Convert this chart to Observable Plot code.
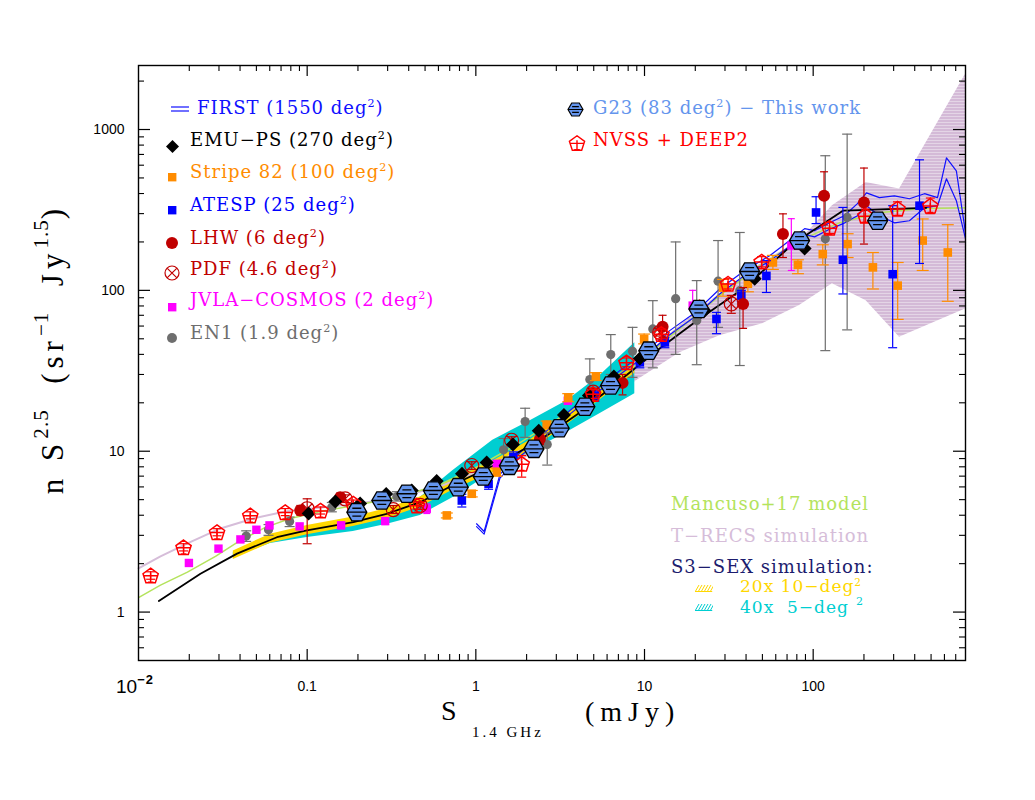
<!DOCTYPE html>
<html><head><meta charset="utf-8">
<script src="https://cdn.jsdelivr.net/npm/d3@7"></script>
<script src="https://cdn.jsdelivr.net/npm/@observablehq/plot@0.6"></script>
<style>
body{margin:0;background:#fff;}
#wrap{position:relative;width:1035px;height:800px;overflow:hidden;background:#fff;}
.t{position:absolute;white-space:nowrap;font-family:"DejaVu Serif",serif;font-size:18px;letter-spacing:1px;line-height:1;}
.t sup{font-size:0.62em;vertical-align:0.6em;line-height:0;}
.ax{position:absolute;white-space:nowrap;font-family:"Liberation Serif",serif;line-height:1;}
.ax sup{font-size:0.68em;vertical-align:0.7em;line-height:0;letter-spacing:1px;}
</style></head><body><div id="wrap"></div>
<script>
// ---------------- DATA (S in mJy, N = n S^2.5) ----------------
// NVSS + DEEP2
const nvssS  = [0.0118,0.0185,0.0292,0.046,0.0741,0.12,0.1875,0.447,1.87,4.96,7.82,12.6,21.2,31.3,49.5,83,125,204,316,495];
const nvssN  = [1.69,2.53,3.14,3.99,4.18,4.28,4.73,4.6,8.35,22.7,35.7,53.6,78.4,110,151,201,245,291,322,336];
const nvssLo = [1.6,2.4,2.98,3.8,3.98,4.07,4.5,4.37,6.9,21.3,33.5,50,73,102,140,186,226,265,292,300];
const nvssHi = [1.78,2.66,3.3,4.2,4.4,4.5,4.97,4.83,9.4,24.2,38,57.4,84,118,162,216,265,320,355,375];
// G23 (this work)
const g23S = [0.197,0.277,0.39,0.56,0.787,1.107,1.58,2.21,3.12,4.43,6.29,10.6,21.0,42.0,83.0,241];
const g23N = [4.18,4.94,5.44,5.70,5.98,6.96,8.11,10.35,13.9,18.9,25.6,42.2,76.6,131,204,271];
// EMU-PS
const emuS = [0.102,0.147,0.206,0.294,0.417,0.586,0.828,1.16,1.66,2.36,3.33,4.68,6.58,9.38,22.7,45.0,89.0,253];
const emuN = [4.10,4.87,4.73,5.42,5.70,6.53,7.24,8.51,11.0,13.4,16.8,22.2,29.1,37.7,74.8,118,182,278];
// Stripe 82
const s82S  = [0.673,0.946,1.33,2.63,3.53,5.15,9.95,29.2,41.0,57.7,81.2,114,160,226,317,446,628];
const s82N  = [3.99,5.44,7.41,14.6,21.5,29.1,49.9,104,110,149,144,168,194,139,107,204,172];
const s82Lo = [3.85,5.2,7.0,13.8,20.3,27.5,46.5,92,98,135,127,144,160,102,66,133,85.5];
const s82Hi = [4.13,5.7,7.85,15.4,22.8,30.8,53.5,117,124,165,155,192,225,172,149,278,256];
// ATESP
const atS  = [0.826,1.19,1.67,5.08,9.38,13.2,26.7,37.5,52.8,104,150,296,427];
const atN  = [4.94,6.27,9.18,22.2,35.7,47.5,66.4,92.7,123,305,155,126,336];
const atLo = [4.5,5.8,8.5,20.5,33,44,53.8,85,97,260,95,44,147];
const atHi = [5.4,6.8,9.9,24,38.5,51,73,100,153,382,328,336,648];
// LHW
const lhwS  = [0.091,0.157,2.40,7.41,12.8,38.4,66.2,116,200];
const lhwN  = [4.28,5.18,11.9,26.6,59.5,82.4,224,387,352];
const lhwLo = [4.0,4.9,11.0,22.4,51,58,160,255,194];
const lhwHi = [4.6,5.5,12.9,30,70,104,299,546,576];
// PDF
const pdfS  = [0.1,0.168,0.324,0.468,0.946,1.63,4.96,12.3,32.7];
const pdfN  = [4.39,5.06,4.34,4.60,8.15,11.7,23.3,54.8,82.4];
const pdfLo = [2.66,4.8,4.1,4.35,7.7,11.1,22,52,72];
const pdfHi = [5.06,5.35,4.6,4.85,8.6,12.3,24.6,57.6,93];
// JVLA-COSMOS
const jvS  = [0.0199,0.0298,0.0402,0.05,0.0598,0.0902,0.159,0.29,0.512,1.33,3.51,19.3,74.2];
const jvN  = [2.02,2.48,2.83,3.25,3.46,3.41,3.46,3.68,4.39,8.35,20.6,80.4,190];
const jvLo = [1.95,2.4,2.74,3.1,3.3,3.3,3.3,3.5,4.1,8.0,19.6,75,133];
const jvHi = [2.1,2.57,2.93,3.4,3.6,3.55,3.62,3.86,4.7,8.7,21.6,100,279];
// EN1
const en1S  = [0.0435,0.059,0.0787,0.140,0.34,1.46,1.96,2.65,4.74,6.31,8.49,11.2,15.3,20.4,27.3,36.7,118,159];
const en1N  = [2.97,3.25,3.66,4.49,5.23,10.2,15.3,11.0,27.9,39.9,41.8,57.6,88.8,64.9,114,99.6,209,284];
const en1Lo = [2.75,3.0,3.4,4.2,4.9,8.8,12.2,8.2,20.7,30,28.8,33,40,34.5,58.9,34.1,42.2,56.8];
const en1Hi = [3.2,3.5,3.9,4.8,5.6,12.0,18.5,13.0,37.5,53.1,58.9,86.3,200,115,204,229,687,936];
// FIRST (two bounding lines)
const firstS  = [1.01,1.12,1.39,1.83,2.57,3.61,5.08,7.14,10.0,14.1,19.9,27.9,39.3,55.2,72.5,89.0,102,125,153,183,207,247,303,372,457,546,617,706,800];
const firstHi = [3.54,3.17,7.17,9.82,13.1,17.9,23.8,31.7,41.0,56.2,72.7,102,133,164,204,242,235,263,291,346,404,377,387,371,399,377,667,554,228];
const firstLo = [3.4,3.05,6.8,9.3,12.4,17.0,22.6,30.0,38.8,53.0,68.5,95,124,152,188,222,215,240,262,291,336,291,263,271,326,336,494,361,210];
// Mancuso+17 model
const mS = [0.01,0.0135,0.0195,0.0286,0.0402,0.0565,0.0794,0.12,0.206,0.356,0.614,1.06,1.83,3.15,5.43,9.38,16.2,27.9,48.2,83.0,143,247,427,800];
const mN = [1.23,1.47,1.77,2.22,2.79,3.36,3.82,4.22,4.67,5.23,6.21,8.15,11.3,16.2,23.8,36.6,57.8,92.7,142,204,263,304,322,326];
// T-RECS simulation: line (faint fluxes) and band
const trS = [0.01,0.0135,0.0195,0.0306,0.048,0.0741,0.12,0.206,0.356,0.614,1.06,1.83];
const trN = [1.87,2.22,2.67,3.31,3.82,4.22,4.47,4.73,5.23,6.04,7.59,10.1];
const tbS  = [1.83,3.15,5.43,9.38,16.2,27.9,50.1,83.0,130,206,325,800];
const tbLo = [8.51,13.1,19.2,28.3,41.0,52.3,62.1,80.4,110,86.3,51.1,76.6];
const tbHi = [10.4,16.0,23.8,36.6,60.4,95.4,149,204,336,469,426,2209];
// S3-SEX simulation: black line, 20x10-deg2 (yellow) and 40x5-deg2 (cyan) bands
const bS = [0.0132,0.0233,0.0384,0.0662,0.0997,0.188,0.296,0.468,0.805,1.39,2.40,4.14,7.14,12.3,21.2,38.2,77.6,150,468];
const bN = [1.17,1.73,2.31,2.92,3.22,3.62,4.08,4.82,6.48,8.51,11.7,17.4,27.5,43.5,66.7,102,198,313,326];
const sxS   = [0.0365,0.0605,0.100,0.1875,0.298,0.468,0.733,1.26,2.01,3.47,5.43,8.76];
const cyLo  = [2.19,2.67,2.91,3.17,3.51,3.99,5.16,7.37,9.68,13.1,17.1,22.8];
const cyHi  = [2.35,2.91,3.31,3.71,4.28,5.16,7.59,11.7,15.1,20.6,29.5,47.3];
const yeLo  = [2.12,2.68,3.02,3.40,3.82,4.50,5.75,7.4,9.7,14.6,20.8,30.5];
const yeHi  = [2.40,3.05,3.45,3.90,4.40,5.20,6.7,8.7,11.4,17.1,24.4,35.8];
// axis ticks
const xLabelTicks = [0.1,1,10,100];
const yLabelTicks = [1,10,100,1000];

// ---------------- helpers ----------------
const rec = (S,N,lo,hi) => S.map((s,i)=>({S:s,N:N[i],lo:lo?lo[i]:null,hi:hi?hi[i]:null}));
const band = (S,lo,hi) => S.map((s,i)=>({S:s,lo:lo[i],hi:hi[i]}));
const hOf = s => Math.sqrt(s/Math.PI);
const symDiamond = {draw(c,s){const h=hOf(s);c.moveTo(0,-h);c.lineTo(h,0);c.lineTo(0,h);c.lineTo(-h,0);c.closePath();}};
const symSquare = {draw(c,s){const h=hOf(s);c.rect(-h,-h,2*h,2*h);}};
const symCircle = {draw(c,s){const h=hOf(s);c.moveTo(h,0);c.arc(0,0,h,0,2*Math.PI);}};
const symCircleX = {draw(c,s){const h=hOf(s);c.moveTo(h,0);c.arc(0,0,h,0,2*Math.PI);const q=h*0.7071;c.moveTo(-q,-q);c.lineTo(q,q);c.moveTo(q,-q);c.lineTo(-q,q);}};
const symPent = {draw(c,s){const h=hOf(s);for(let k=0;k<5;k++){const a=-Math.PI/2+k*2*Math.PI/5;const x=h*Math.cos(a),y=h*Math.sin(a)+h*0.1;k?c.lineTo(x,y):c.moveTo(x,y);}c.closePath();
  c.moveTo(-h*0.8,h*0.05);c.lineTo(h*0.8,h*0.05);c.moveTo(0,-h*0.35);c.lineTo(0,h*0.85);c.moveTo(-h*0.35,h*0.85);c.lineTo(h*0.35,h*0.85);}};
const symHex = {draw(c,s){const h=hOf(s);const v=h*0.866;c.moveTo(h,0);c.lineTo(h/2,v);c.lineTo(-h/2,v);c.lineTo(-h,0);c.lineTo(-h/2,-v);c.lineTo(h/2,-v);c.closePath();
  c.moveTo(-h,0);c.lineTo(h,0);c.moveTo(-h*0.45,-v*0.45);c.lineTo(h*0.45,-v*0.45);c.moveTo(-h*0.45,v*0.45);c.lineTo(h*0.45,v*0.45);}};
const symCap = {draw(c,s){const h=hOf(s);c.moveTo(-h,0);c.lineTo(h,0);}};

function errs(data,color,cap,sw=1.2){
  return [
    Plot.ruleX(data,{x:"S",y1:"lo",y2:"hi",stroke:color,strokeWidth:sw}),
    Plot.dot(data,{x:"S",y:"lo",symbol:symCap,r:cap,stroke:color,strokeWidth:sw,fill:"none"}),
    Plot.dot(data,{x:"S",y:"hi",symbol:symCap,r:cap,stroke:color,strokeWidth:sw,fill:"none"})
  ];
}

const C = {first:"#1010ff",s82:"#ff8c00",atesp:"#0000ff",lhw:"#c00000",pdf:"#c00000",jv:"#ff00ff",en1:"#6e6e6e",
  g23:"#6495ed",nvss:"#ff0000",manc:"#b4e35c",trecs:"#d6bdd9",sx:"#1c1c6e",yel:"#ffd700",cyan:"#00ced1"};

const nvss=rec(nvssS,nvssN,nvssLo,nvssHi), g23=rec(g23S,g23N), emu=rec(emuS,emuN),
  s82=rec(s82S,s82N,s82Lo,s82Hi), at=rec(atS,atN,atLo,atHi), lhw=rec(lhwS,lhwN,lhwLo,lhwHi),
  pdf=rec(pdfS,pdfN,pdfLo,pdfHi), jv=rec(jvS,jvN,jvLo,jvHi), en1=rec(en1S,en1N,en1Lo,en1Hi);
const firstData = firstS.map((s,i)=>({S:s,hi:firstHi[i],lo:firstLo[i]}));
const manc = rec(mS,mN), trl = rec(trS,trN), blk = rec(bS,bN);
const trb = band(tbS,tbLo,tbHi), cyb = band(sxS,cyLo,cyHi), yeb = band(sxS,yeLo,yeHi);

const W=1035,H=800,mt=65,mb=140,ml=138,mr=70, pw=W-ml-mr, ph=H-mt-mb;
const decs=[0.01,0.1,1,10,100,1000];
const xMajor=[0.1,1,10,100];
const xMinor=decs.flatMap(d=>d3.range(2,10).map(k=>+(k*d).toPrecision(3))).filter(v=>v>0.01&&v<800);
const yMajor=[1,10,100,1000];
const yMinor=[0.1,1,10,100,1000].flatMap(d=>d3.range(2,10).map(k=>+(k*d).toPrecision(3))).filter(v=>v>0.5&&v<2500);

const chart = Plot.plot({
  width:W,height:H,marginTop:mt,marginBottom:mb,marginLeft:ml,marginRight:mr,
  x:{type:"log",domain:[0.01,800]},
  y:{type:"log",domain:[0.5,2500]},
  style:{background:"white",color:"black",overflow:"visible"},
  marks:[
    Plot.areaY(trb,{x:"S",y1:"lo",y2:"hi",fill:"url(#trecsHatch)",clip:true}),
    Plot.areaY(cyb,{x:"S",y1:"lo",y2:"hi",fill:C.cyan}),
    Plot.areaY(yeb,{x:"S",y1:"lo",y2:"hi",fill:C.yel}),
    Plot.line(trl,{x:"S",y:"N",stroke:C.trecs,strokeWidth:2}),
    Plot.line(manc,{x:"S",y:"N",stroke:C.manc,strokeWidth:1.5,clip:true}),
    Plot.line(firstData,{x:"S",y:"hi",stroke:C.first,strokeWidth:1.2,clip:true}),
    Plot.line(firstData,{x:"S",y:"lo",stroke:C.first,strokeWidth:1.2,clip:true}),
    Plot.line(blk,{x:"S",y:"N",stroke:"black",strokeWidth:1.8}),
    errs(en1,C.en1,5),
    Plot.dot(en1,{x:"S",y:"N",symbol:symCircle,r:4.6,fill:C.en1,stroke:"none"}),
    errs(jv,C.jv,3.5),
    Plot.dot(jv,{x:"S",y:"N",symbol:symSquare,r:4.2,fill:C.jv,stroke:"none"}),
    errs(s82,C.s82,6),
    Plot.dot(s82,{x:"S",y:"N",symbol:symSquare,r:4.3,fill:C.s82,stroke:"none"}),
    errs(at,C.atesp,4.5),
    Plot.dot(at,{x:"S",y:"N",symbol:symSquare,r:4.3,fill:C.atesp,stroke:"none"}),
    errs(lhw,C.lhw,4),
    Plot.dot(lhw,{x:"S",y:"N",symbol:symCircle,r:6,fill:C.lhw,stroke:"none"}),
    errs(pdf,C.pdf,4.5),
    Plot.dot(pdf,{x:"S",y:"N",symbol:symCircleX,r:7,fill:"none",stroke:C.pdf,strokeWidth:1.2}),
    Plot.dot(emu,{x:"S",y:"N",symbol:symDiamond,r:7,fill:"black",stroke:"none"}),
    errs(nvss,C.nvss,4.5),
    Plot.dot(nvss,{x:"S",y:"N",symbol:symPent,r:8,fill:"none",stroke:C.nvss,strokeWidth:1.5}),
    Plot.dot(g23,{x:"S",y:"N",symbol:symHex,r:10,fill:C.g23,stroke:"black",strokeWidth:1.3}),
    Plot.frame({stroke:"black",strokeWidth:1.4}),
    Plot.tickX(xMajor,{x:d=>d,stroke:"black",strokeWidth:1.2,insetTop:ph-11}),
    Plot.tickX(xMajor,{x:d=>d,stroke:"black",strokeWidth:1.2,insetBottom:ph-11}),
    Plot.tickX(xMinor,{x:d=>d,stroke:"black",strokeWidth:1.1,insetTop:ph-6}),
    Plot.tickX(xMinor,{x:d=>d,stroke:"black",strokeWidth:1.1,insetBottom:ph-6}),
    Plot.tickY(yMajor,{y:d=>d,stroke:"black",strokeWidth:1.2,insetRight:pw-12}),
    Plot.tickY(yMajor,{y:d=>d,stroke:"black",strokeWidth:1.2,insetLeft:pw-12}),
    Plot.tickY(yMinor,{y:d=>d,stroke:"black",strokeWidth:1.1,insetRight:pw-6}),
    Plot.tickY(yMinor,{y:d=>d,stroke:"black",strokeWidth:1.1,insetLeft:pw-6}),
    Plot.axisX({ticks:xLabelTicks,tickSize:0,tickPadding:21,tickFormat:d=>String(d),label:null,fontSize:14,fontFamily:"Liberation Sans Narrow, Liberation Sans, sans-serif"}),
    Plot.axisY({ticks:yLabelTicks,tickSize:0,tickPadding:14,tickFormat:d=>String(d),label:null,fontSize:14,fontFamily:"Liberation Sans, sans-serif"})
  ]
});

// hatch pattern for the T-RECS band
const defs = d3.select(chart).insert("defs",":first-child");
const pat = defs.append("pattern").attr("id","trecsHatch").attr("patternUnits","userSpaceOnUse").attr("width",6).attr("height",3);
pat.append("rect").attr("width",6).attr("height",3).attr("fill","#d4bad7");
pat.append("rect").attr("y",2).attr("width",6).attr("height",0.8).attr("fill","#e9dcea");

const wrap = document.getElementById("wrap");
wrap.appendChild(chart);

// ---------------- overlay text & legend ----------------
function txt(html,x,cy,color,cls="t",size=18,extra={}){
  const d=document.createElement("div");d.className=cls;d.innerHTML=html;
  d.style.left=x+"px";d.style.top=(cy-size*0.55)+"px";d.style.fontSize=size+"px";d.style.color=color;
  Object.assign(d.style,extra);wrap.appendChild(d);return d;
}
function sym(s,x,y,h,fill,stroke,sw){
  const pad=4, sz=2*h+2*pad;
  const svg=d3.create("svg").attr("width",sz).attr("height",sz)
    .style("position","absolute").style("left",(x-h-pad)+"px").style("top",(y-h-pad)+"px");
  const p=d3.path(); s.draw(p,h*h*Math.PI);
  svg.append("path").attr("transform",`translate(${h+pad},${h+pad})`).attr("d",p.toString())
    .attr("fill",fill).attr("stroke",stroke).attr("stroke-width",sw);
  wrap.appendChild(svg.node());
}
// FIRST "=" symbol
(function(){
  const svg=d3.create("svg").attr("width",22).attr("height",10).style("position","absolute").style("left","170px").style("top","104px");
  svg.append("line").attr("x1",1).attr("x2",19).attr("y1",3).attr("y2",3).attr("stroke",C.first).attr("stroke-width",1.2);
  svg.append("line").attr("x1",1).attr("x2",19).attr("y1",7).attr("y2",7).attr("stroke",C.first).attr("stroke-width",1.2);
  wrap.appendChild(svg.node());
})();
txt("FIRST (1550 deg<sup>2</sup>)",197,109,C.first);
sym(symDiamond,172,146,6.5,"black","none",0);  txt("EMU−PS (270 deg<sup>2</sup>)",190,141,"black");
sym(symSquare,172,177,4.2,C.s82,"none",0);     txt("Stripe 82 (100 deg<sup>2</sup>)",190,173,C.s82);
sym(symSquare,172,210,4.2,C.atesp,"none",0);   txt("ATESP (25 deg<sup>2</sup>)",190,206,C.atesp);
sym(symCircle,172,243,6,C.lhw,"none",0);       txt("LHW (6 deg<sup>2</sup>)",190,239,C.lhw);
sym(symCircleX,172,273,7,"none",C.pdf,1.2);    txt("PDF (4.6 deg<sup>2</sup>)",190,270,C.pdf);
sym(symSquare,172,307,4.2,C.jv,"none",0);      txt("JVLA−COSMOS (2 deg<sup>2</sup>)",190,301,C.jv);
sym(symCircle,172,338,5,C.en1,"none",0);       txt("EN1 (1.9 deg<sup>2</sup>)",190,334,C.en1);

sym(symHex,575,109,7.5,C.g23,"black",1.2);     txt("G23 (83 deg<sup>2</sup>) − This work",593,109,C.g23);
sym(symPent,577,143,8,"none",C.nvss,1.4);      txt("NVSS + DEEP2",593,141,C.nvss);

txt("Mancuso+17 model",671,505,C.manc);
txt("T−RECS simulation",671,537,C.trecs);
txt("S3−SEX simulation:",671,568,C.sx);
function swatch(x,y,color){
  const svg=d3.create("svg").attr("width",18).attr("height",7).style("position","absolute").style("left",x+"px").style("top",y+"px");
  for(let i=0;i<7;i++) svg.append("line").attr("x1",i*3).attr("y1",7).attr("x2",i*3+4).attr("y2",0).attr("stroke",color).attr("stroke-width",1);
  svg.append("line").attr("x1",0).attr("x2",17).attr("y1",6.5).attr("y2",6.5).attr("stroke",color).attr("stroke-width",1);
  wrap.appendChild(svg.node());
}
swatch(695,585,C.yel);  txt("20x 10−deg<sup>2</sup>",740,587,C.yel,"t",17);
swatch(695,604,C.cyan); txt("40x&nbsp; 5−deg",740,608,C.cyan,"t",17); txt("2",856,602,C.cyan,"t",11);

// axis titles
txt("10<sup style='font-weight:bold'>−2</sup>",116,687,"black","ax",19,{fontFamily:"Liberation Sans, sans-serif"});
const yt=document.createElement("div");yt.className="ax";yt.style.fontSize="31px";yt.style.letterSpacing="5px";
yt.innerHTML="n S<sup>2.5</sup>&nbsp; (sr<sup>−1</sup>&nbsp; Jy<sup>1.5</sup>)";
Object.assign(yt.style,{left:"52px",top:"349px",transform:"translate(-50%,-50%) rotate(-90deg)"});
wrap.appendChild(yt);
txt("S",441,712,"black","ax",28);
txt("1.4 GHz",472,733,"black","ax",15,{letterSpacing:"3px"});
txt("(mJy)",585,713,"black","ax",28,{letterSpacing:"6px"});
</script></body></html>
